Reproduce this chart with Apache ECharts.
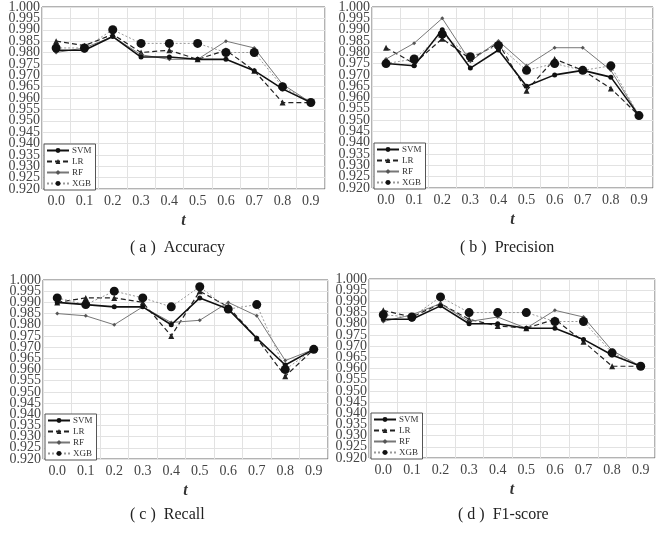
<!DOCTYPE html>
<html>
<head>
<meta charset="utf-8">
<script src="https://cdn.jsdelivr.net/npm/echarts@6/dist/echarts.min.js"></script>
<style>
  html, body { margin: 0; padding: 0; background: #fff; }
  #chart { width: 662px; height: 536px; }
</style>
</head>
<body>
<div id="chart"></div>
<script>
// thresholds t
const thresholds = ['0.0', '0.1', '0.2', '0.3', '0.4', '0.5', '0.6', '0.7', '0.8', '0.9'];
const modelNames = ['SVM', 'LR', 'RF', 'XGB'];
const captions = ['( a )  Accuracy', '( b )  Precision', '( c )  Recall', '( d )  F1-score'];

// (a) Accuracy
const accSVM = [0.981, 0.981, 0.987, 0.978, 0.978, 0.977, 0.977, 0.972, 0.964, 0.958];
const accLR  = [0.985, 0.983, 0.988, 0.980, 0.981, 0.977, 0.981, 0.972, 0.958, 0.958];
const accRF  = [0.980, 0.982, 0.987, 0.979, 0.977, 0.977, 0.985, 0.982, 0.966, 0.958];
const accXGB = [0.982, 0.982, 0.990, 0.984, 0.984, 0.984, 0.980, 0.980, 0.965, 0.958];

// (b) Precision
const preSVM = [0.975, 0.974, 0.990, 0.973, 0.981, 0.965, 0.970, 0.972, 0.969, 0.952];
const preLR  = [0.982, 0.975, 0.986, 0.977, 0.984, 0.963, 0.977, 0.972, 0.964, 0.952];
const preRF  = [0.977, 0.984, 0.995, 0.976, 0.985, 0.974, 0.982, 0.982, 0.972, 0.952];
const preXGB = [0.975, 0.977, 0.988, 0.978, 0.983, 0.972, 0.975, 0.972, 0.974, 0.952];

// (c) Recall
const recSVM = [0.990, 0.989, 0.988, 0.988, 0.980, 0.992, 0.987, 0.974, 0.962, 0.969];
const recLR  = [0.990, 0.992, 0.992, 0.990, 0.975, 0.995, 0.988, 0.974, 0.957, 0.969];
const recRF  = [0.985, 0.984, 0.980, 0.988, 0.981, 0.982, 0.990, 0.984, 0.964, 0.969];
const recXGB = [0.992, 0.989, 0.995, 0.992, 0.988, 0.997, 0.987, 0.989, 0.960, 0.969];

// (d) F1-score
const f1SVM = [0.982, 0.982, 0.988, 0.980, 0.980, 0.978, 0.978, 0.973, 0.966, 0.961];
const f1LR  = [0.986, 0.983, 0.989, 0.982, 0.979, 0.978, 0.982, 0.972, 0.961, 0.961];
const f1RF  = [0.981, 0.984, 0.989, 0.981, 0.983, 0.978, 0.986, 0.983, 0.968, 0.961];
const f1XGB = [0.984, 0.983, 0.992, 0.985, 0.985, 0.985, 0.981, 0.981, 0.967, 0.961];

const panels = [
    [accSVM, accLR, accRF, accXGB],
    [preSVM, preLR, preRF, preXGB],
    [recSVM, recLR, recRF, recXGB],
    [f1SVM, f1LR, f1RF, f1XGB],
];

const yMin = 0.92;
const yMax = 1.0;
const yStep = 0.005;

const grids = [
    { left: 42, top: 7, width: 283, height: 182 },
    { left: 372, top: 7, width: 281, height: 181 },
    { left: 43, top: 280, width: 285, height: 179 },
    { left: 369, top: 279, width: 286, height: 179 },
];

const captionPos = [[190, 240], [520, 240], [190, 507], [518, 507]];

const serif = '"Liberation Serif", "DejaVu Serif", serif';

// look of each model's line
const styles = {
    SVM: { symbol: 'circle', symbolSize: 5, lineStyle: { color: '#111', width: 1.6, type: 'solid' }, itemStyle: { color: '#111' } },
    LR:  { symbol: 'triangle', symbolSize: 6, lineStyle: { color: '#222', width: 1.2, type: [5, 3] }, itemStyle: { color: '#222' } },
    RF:  { symbol: 'diamond', symbolSize: 4, lineStyle: { color: '#777', width: 1, type: 'solid' }, itemStyle: { color: '#555' } },
    XGB: { symbol: 'circle', symbolSize: 9, lineStyle: { color: '#999', width: 1, type: [2, 2] }, itemStyle: { color: '#111' } },
};

const chart = echarts.init(document.getElementById('chart'), null, { renderer: 'canvas' });

const series = [];
panels.forEach((panel, p) => {
    panel.forEach((values, m) => {
        const name = modelNames[m];
        series.push({
            name: name,
            type: 'line',
            xAxisIndex: p,
            yAxisIndex: p,
            data: values,
            symbol: styles[name].symbol,
            symbolSize: styles[name].symbolSize,
            lineStyle: styles[name].lineStyle,
            itemStyle: styles[name].itemStyle,
            z: name === 'SVM' ? 5 : 3,
            animation: false,
        });
    });
});

const isEnd = v => Math.abs(v - yMin) < 1e-6 || Math.abs(v - yMax) < 1e-6;
const yLabelStyle = { color: '#444', fontSize: 14, fontFamily: serif };

// main y axes carry the inner labels + grid lines,
// a twin axis on the same grid carries only the end labels (echarts hides them otherwise)
const yAxes = grids.map((g, i) => ({
    type: 'value',
    gridIndex: i,
    min: yMin,
    max: yMax,
    interval: yStep,
    axisLine: { show: false },
    axisTick: { show: false },
    axisLabel: Object.assign({
        margin: 2,
        showMinLabel: false, showMaxLabel: false,
        formatter: v => isEnd(v) ? '' : v.toFixed(3),
    }, yLabelStyle),
    splitLine: { show: true, lineStyle: { color: '#e2e2e2', width: 1 } },
})).concat(grids.map((g, i) => ({
    type: 'value',
    gridIndex: i,
    position: 'left',
    min: yMin,
    max: yMax,
    interval: yStep,
    axisLine: { show: false },
    axisTick: { show: false },
    axisLabel: Object.assign({
        margin: 2,
        showMinLabel: true, showMaxLabel: true,
        formatter: v => isEnd(v) ? v.toFixed(3) : '',
    }, yLabelStyle),
    splitLine: { show: false },
})));

const option = {
    backgroundColor: '#fff',
    textStyle: { fontFamily: serif },
    grid: grids.map(g => Object.assign({ show: true, borderColor: '#666', borderWidth: 1, backgroundColor: '#fff' }, g)),
    xAxis: grids.map((g, i) => ({
        type: 'category',
        gridIndex: i,
        data: thresholds,
        boundaryGap: true,
        name: 't',
        nameLocation: 'middle',
        nameGap: 24,
        nameTextStyle: { fontFamily: serif, fontStyle: 'italic', fontWeight: 'bold', fontSize: 16, color: '#333' },
        axisLine: { show: false },
        axisTick: { show: false },
        axisLabel: { color: '#444', fontSize: 14, fontFamily: serif, margin: 5, interval: 0 },
        splitLine: { show: true, interval: 0, lineStyle: { color: '#e2e2e2', width: 1 } },
    })),
    yAxis: yAxes,
    legend: grids.map(g => ({
        orient: 'vertical',
        left: g.left + 2,
        top: g.top + g.height - 45,
        data: modelNames,
        itemWidth: 22,
        itemHeight: 6,
        itemGap: 2,
        padding: [2, 4, 2, 2],
        borderColor: '#555',
        borderWidth: 1,
        backgroundColor: '#fff',
        textStyle: { fontFamily: serif, fontSize: 9, color: '#333', padding: [0, 0, 0, -2] },
        selectedMode: false,
    })),
    graphic: captions.map((text, i) => ({
        type: 'text',
        left: captionPos[i][0] - 60,
        top: captionPos[i][1],
        style: { text: text, fontFamily: serif, fontSize: 16, fill: '#222', width: 120, align: 'left' },
    })),
    series: series,
};

chart.setOption(option);
</script>
</body>
</html>
